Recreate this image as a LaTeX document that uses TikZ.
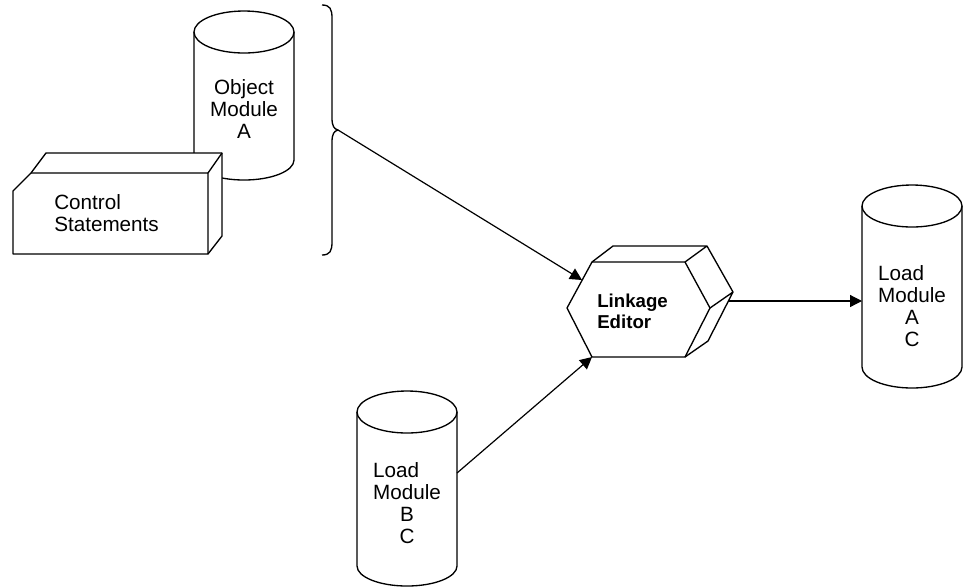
\documentclass[tikz,border=0pt]{standalone}
\usepackage{fontspec}
\setmainfont{Liberation Sans}
\usepackage{calc}
\usetikzlibrary{arrows.meta}

\tikzset{
  outline/.style={draw=black,line width=1pt,line join=round},
  modtext/.style={align=center,inner sep=0pt,font=\fontsize{15.5}{16.5}\selectfont},
  link/.style={draw=black,line width=0.9pt,-{Triangle[length=9pt,width=9pt]}},
}
\newcommand{\loadword}{\makebox[\widthof{Module}][l]{Load}}

\begin{document}
\begin{tikzpicture}[x=0.75pt,y=-0.75pt]
  \useasboundingbox (0,0) rectangle (964,587);

  % object module A
  \draw[outline,fill=white] (194,32) -- (194,160) arc[start angle=180,end angle=0,x radius=50,y radius=20] -- (294,32);
  \draw[outline] (244,32) ellipse [x radius=50,y radius=21];
  \node[modtext] (objA) at (244,109) {Object\\Module\\A};

  % control statements
  \draw[outline,fill=white] (13,191) -- (31,173) -- (46,153) -- (222,153) -- (222,236) -- (208,254) -- (13,254) -- cycle;
  \draw[outline] (31,173) -- (208,173) -- (222,153) (208,173) -- (208,254);
  \node[modtext,align=left,anchor=west,font=\fontsize{15.5}{17}\selectfont] (ctrl) at (54,213) {Control\\Statements};

  % brace
  \draw[outline] (322,5) .. controls (330,5) and (332,9) .. (332,18) -- (332,118)
    .. controls (332,126) and (334,129) .. (338,130)
    .. controls (334,131) and (332,134) .. (332,142) -- (332,242)
    .. controls (332,251) and (330,255) .. (322,255);
  \coordinate (brace) at (338,130);

  % linkage editor
  \draw[outline,fill=white] (567,308) -- (592,262) -- (685,262) -- (710,308) -- (685,357) -- (592,357) -- cycle;
  \draw[outline] (592,262) -- (613,246) -- (707,246) -- (685,262)
    (707,246) -- (733,292) -- (710,308)
    (733,292) -- (708,341) -- (685,357);
  \node[align=left,anchor=west,inner sep=0pt,font=\fontsize{14}{15.75}\selectfont\bfseries] (linked) at (597,311) {Linkage\\Editor};
  \coordinate (le in1) at (582,280);
  \coordinate (le in2) at (592,357);
  \coordinate (le out) at (729,301);

  % load module A C
  \draw[outline,fill=white] (862,206) -- (862,367) arc[start angle=180,end angle=0,x radius=50,y radius=21] -- (962,206);
  \draw[outline] (912,206) ellipse [x radius=50,y radius=21];
  \node[modtext] (loadAC) at (912,306) {\loadword\\Module\\A\\C};
  \coordinate (ac in) at (862,301);

  % load module B C
  \draw[outline,fill=white] (357,412) -- (357,566) arc[start angle=180,end angle=0,x radius=50,y radius=20] -- (457,412);
  \draw[outline] (407,412) ellipse [x radius=50,y radius=21];
  \node[modtext] (loadBC) at (407,503) {\loadword\\Module\\B\\C};
  \coordinate (bc out) at (457,473);

  \draw[link] (brace) -- (le in1);
  \draw[link] (bc out) -- (le in2);
  \draw[link] (le out) -- (ac in);
\end{tikzpicture}
\end{document}
